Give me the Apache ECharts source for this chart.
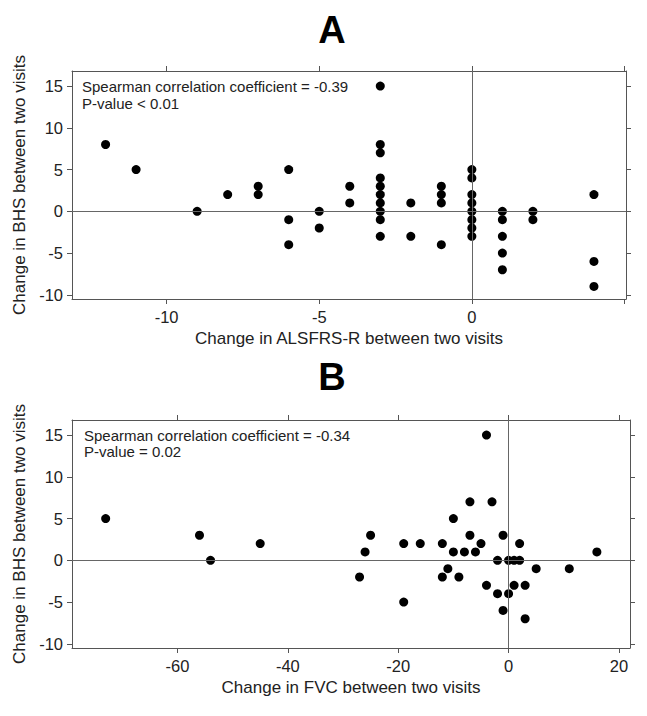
<!DOCTYPE html>
<html>
<head>
<meta charset="utf-8">
<script src="https://cdn.jsdelivr.net/npm/echarts@6/dist/echarts.min.js"></script>
<style>html,body{margin:0;padding:0;background:#fff}#c{width:647px;height:716px}</style>
</head>
<body>
<div id="c"></div>
<script>
// Panel A: change in ALSFRS-R vs change in BHS
const panelA_x = [-12,-11,-9,-8,-7,-7,-6,-6,-6,-5,-5,-4,-4,
  -3,-3,-3,-3,-3,-3,-3,-3,-3,-3,-2,-2,-1,-1,-1,-1,
  0,0,0,0,0,0,0,0,1,1,1,1,1,2,2,4,4,4];
const panelA_y = [8,5,0,2,3,2,5,-1,-4,0,-2,3,1,
  15,8,7,4,3,2,1,0,-1,-3,1,-3,3,2,1,-4,
  5,4,2,1,0,-1,-2,-3,0,-1,-3,-5,-7,0,-1,2,-6,-9];
// Panel B: change in FVC vs change in BHS
const panelB_x = [-73,-56,-54,-45,-27,-26,-25,-19,-19,-16,-12,-12,-11,-10,-10,-9,-8,-7,-7,-6,-5,-4,-4,-3,-2,-2,-1,-1,0,0,1,1,2,2,3,3,5,11,16];
const panelB_y = [5,3,0,2,-2,1,3,2,-5,2,2,-2,-1,5,1,-2,1,7,3,1,2,15,-3,7,0,-4,3,-6,0,-4,0,-3,2,0,-3,-7,-1,-1,1];

const yTicks = [-10,-5,0,5,10,15];
const aXTicks = [-10,-5,0,5];
const aXLabels = [-10,-5,0];
const bXTicks = [-60,-40,-20,0,20];

const textA = ['Spearman correlation coefficient = -0.39', 'P-value < 0.01'];
const textB = ['Spearman correlation coefficient = -0.34', 'P-value = 0.02'];

const FONT = 'Liberation Sans, Arial, sans-serif';
const lineCol = '#555';

function pairs(xs, ys){ return xs.map((x,i)=>[x, ys[i]]); }

function xAx(grid, min, max, ticks, labels, pos, name){
  return {
    type:'value', gridIndex:grid, min:min, max:max, position:pos,
    splitLine:{show:false},
    axisLine:{show:true, onZero:false, lineStyle:{color:lineCol, width:1}},
    axisTick:{show:true, inside:false, length:5, customValues:ticks, lineStyle:{color:lineCol}},
    axisLabel:{show: pos==='bottom', customValues:labels, color:'#222', fontSize:16.5, fontFamily:FONT, margin:9},
    name: name || '', nameLocation:'middle', nameGap:31,
    nameTextStyle:{color:'#222', fontSize:17, fontFamily:FONT}
  };
}
function yAx(grid, pos, name){
  return {
    type:'value', gridIndex:grid, min:-10.5, max:16.8, position:pos,
    splitLine:{show:false},
    axisLine:{show:true, onZero:false, lineStyle:{color:lineCol, width:1}},
    axisTick:{show:true, inside:false, length:5, customValues:yTicks, lineStyle:{color:lineCol}},
    axisLabel:{show: pos==='left', customValues:yTicks, color:'#222', fontSize:16.5, fontFamily:FONT, margin:9},
    name: name || '', nameLocation:'middle', nameGap:43, nameRotate:90,
    nameTextStyle:{color:'#222', fontSize:17, fontFamily:FONT}
  };
}
function refLines(){
  return {
    silent:true, symbol:'none', label:{show:false},
    lineStyle:{color:'#666', type:'solid', width:1},
    data:[{xAxis:0},{yAxis:0}]
  };
}

const chart = echarts.init(document.getElementById('c'), null, {renderer:'svg'});
chart.setOption({
  animation:false,
  backgroundColor:'#fff',
  grid:[
    {left:72, top:71, width:554, height:228},
    {left:72, top:420, width:558, height:228}
  ],
  xAxis:[
    xAx(0, -13.1, 5.05, aXTicks, aXLabels, 'bottom', 'Change in ALSFRS-R between two visits'),
    xAx(0, -13.1, 5.05, aXTicks, aXLabels, 'top'),
    xAx(1, -79.1, 22, bXTicks, bXTicks, 'bottom', 'Change in FVC between two visits'),
    xAx(1, -79.1, 22, bXTicks, bXTicks, 'top')
  ],
  yAxis:[
    yAx(0, 'left', 'Change in BHS between two visits'),
    yAx(0, 'right'),
    yAx(1, 'left', 'Change in BHS between two visits'),
    yAx(1, 'right')
  ],
  graphic:[
    {type:'text', x:332, y:11, style:{text:'A', align:'center', fill:'#000', font:'bold 38px '+FONT}},
    {type:'text', x:332, y:358, style:{text:'B', align:'center', fill:'#000', font:'bold 38px '+FONT}},
    {type:'text', x:82, y:78.5, style:{text:textA.join('\n'), fill:'#222', font:'15px '+FONT, lineHeight:16.5}},
    {type:'text', x:84, y:427, style:{text:textB.join('\n'), fill:'#222', font:'15px '+FONT, lineHeight:16.5}}
  ],
  series:[
    {type:'scatter', xAxisIndex:0, yAxisIndex:0, data:pairs(panelA_x, panelA_y), symbolSize:9,
     itemStyle:{color:'#000', opacity:1}, markLine:refLines()},
    {type:'scatter', xAxisIndex:2, yAxisIndex:2, data:pairs(panelB_x, panelB_y), symbolSize:9,
     itemStyle:{color:'#000', opacity:1}, markLine:refLines()}
  ]
});
</script>
</body>
</html>
